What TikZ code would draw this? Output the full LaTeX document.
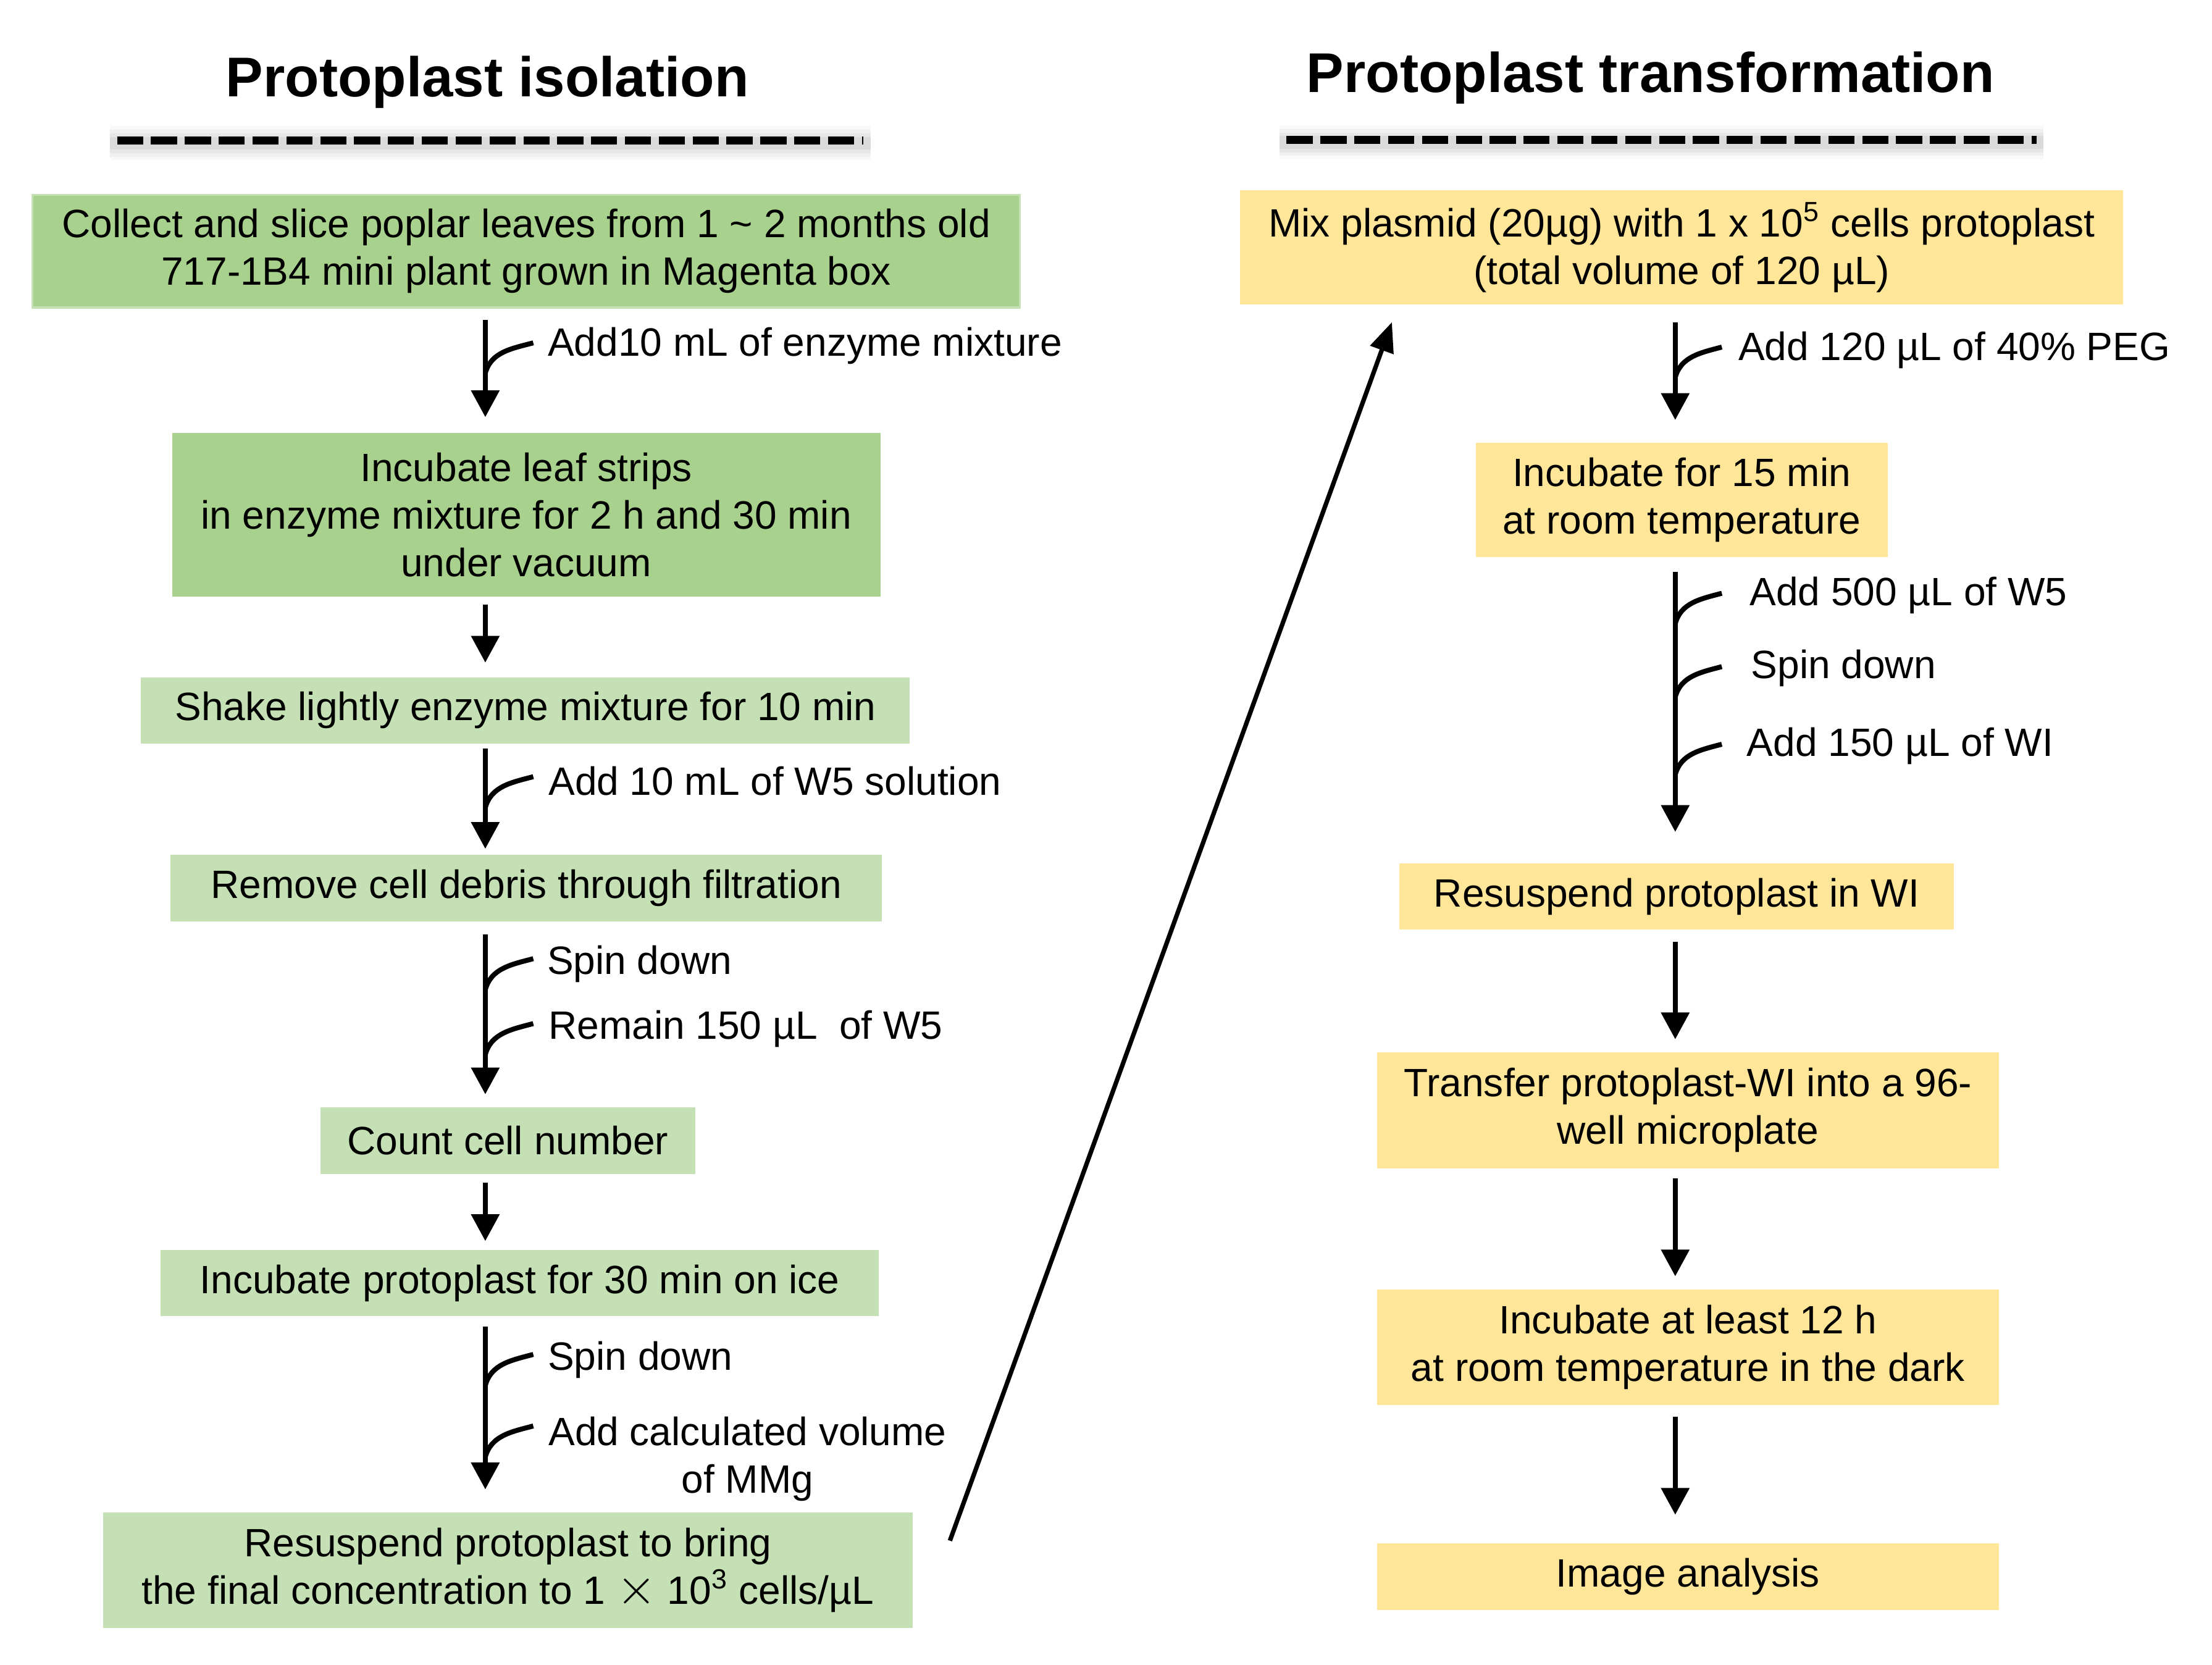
\documentclass[tikz,border=0pt]{standalone}
\usepackage{fontspec}
\setmainfont{Liberation Sans}
\usetikzlibrary{positioning}
\usetikzlibrary{arrows.meta, calc}
\definecolor{leafgreen}{HTML}{A9D18E}
\definecolor{palegreen}{HTML}{C5E0B4}
\definecolor{paleyellow}{HTML}{FFE699}
\tikzstyle{arrow} = [line width=2pt, -{Triangle[length=0.38cm,width=0.39cm]}]
\tikzstyle{hook} = [line width=2pt]

\begin{document}
\begin{tikzpicture}[
  stepbox/.style={rectangle, inner sep=0pt, align=center, font=\fontsize{15.95}{19.2}\selectfont},
  isobox/.style={stepbox, fill=palegreen},
  trfbox/.style={stepbox, fill=paleyellow},
  note/.style={inner sep=0pt, align=center, font=\fontsize{15.95}{19.2}\selectfont},
  heading/.style={inner sep=0pt, font=\fontsize{22.6}{26}\selectfont\bfseries},
  rule/.style={line width=0.115cm, dash pattern=on 0.37cm off 0.11cm}
]
\useasboundingbox (0,0) rectangle (31.36,-23.6);

\coordinate (colL) at (6.88,0);
\coordinate (colR) at (23.75,0);

% headings
\node[heading, anchor=base] (tIso) at (6.91,-1.37) {Protoplast isolation};
\node[heading, anchor=base] (tTrf) at (23.40,-1.31) {Protoplast transformation};

\foreach \w/\o in {0.48/0.05, 0.38/0.07, 0.28/0.09, 0.18/0.12} {
  \draw[gray, line width=\w cm, opacity=\o] (1.56,-2.03) -- (12.34,-2.03);
  \draw[gray, line width=\w cm, opacity=\o] (18.14,-2.02) -- (28.97,-2.02);
}
\draw[rule] (1.66,-1.99) -- (12.24,-1.99);
\draw[rule] (18.24,-1.98) -- (28.87,-1.98);

% isolation
\node[stepbox, fill=leafgreen, draw=palegreen, line width=0.8pt, minimum width=14cm, minimum height=1.6cm] (L1) at (7.46,-3.56)
  {Collect and slice poplar leaves from 1 \textasciitilde{} 2 months old\\717-1B4 mini plant grown in Magenta box};
\node[stepbox, fill=leafgreen, minimum width=10.04cm, minimum height=2.32cm] (L2) at (7.46,-7.30)
  {Incubate leaf strips\\in enzyme mixture for 2 h and 30 min\\under vacuum};
\node[isobox, minimum width=10.9cm, minimum height=0.94cm] (L3) at (7.45,-10.07) {Shake lightly enzyme mixture for 10 min};
\node[isobox, minimum width=10.08cm, minimum height=0.94cm] (L4) at (7.46,-12.59) {Remove cell debris through filtration};
\node[isobox, minimum width=5.32cm, minimum height=0.94cm] (L5) at (7.20,-16.17) {Count cell number};
\node[isobox, minimum width=10.18cm, minimum height=0.94cm] (L6) at (7.37,-18.19) {Incubate protoplast for 30 min on ice};
\node[isobox, minimum width=11.48cm, minimum height=1.64cm] (L7) at (7.20,-22.26)
  {Resuspend protoplast to bring\\the final concentration to 1 {\fontsize{20.5}{19.2}\selectfont$\times$} 10\textsuperscript{3} cells/µL};

\node[note, anchor=base west] (a1) at (7.76,-5.05) {Add10 mL of enzyme mixture};
\node[note, anchor=base west] (a2) at (7.77,-11.27) {Add 10 mL of W5 solution};
\node[note, anchor=base west] (a3) at (7.75,-13.81) {Spin down};
\node[note, anchor=base west] (a4) at (7.77,-14.73) {Remain 150 µL\ \ of W5};
\node[note, anchor=base west] (a5) at (7.76,-19.42) {Spin down};
\node[note, anchor=west] (a6) at (7.77,-20.68) {Add calculated volume\\of MMg};

\draw[arrow, shorten <=0.16cm, shorten >=0.22cm] (L1.south -| colL) -- (L2.north -| colL);
\draw[arrow, shorten <=0.10cm, shorten >=0.20cm] (L2.south -| colL) -- (L3.north -| colL);
\draw[arrow, shorten <=0.06cm, shorten >=0.08cm] (L3.south -| colL) -- (L4.north -| colL);
\draw[arrow, shorten <=0.18cm, shorten >=0.18cm] (L4.south -| colL) -- (L5.north -| colL);
\draw[arrow, shorten <=0.12cm, shorten >=0.12cm] (L5.south -| colL) -- (L6.north -| colL);
\draw[arrow, shorten <=0.14cm, shorten >=0.32cm] (L6.south -| colL) -- (L7.north -| colL);

\draw[hook] ($(colL |- a1.base)+(0.68,0.19)$) to[out=195,in=75] ($(colL |- a1.base)+(0,-0.24)$);
\draw[hook] ($(colL |- a2.base)+(0.68,0.26)$) to[out=195,in=75] ($(colL |- a2.base)+(0,-0.18)$);
\draw[hook] ($(colL |- a3.base)+(0.68,0.22)$) to[out=195,in=75] ($(colL |- a3.base)+(0,-0.22)$);
\draw[hook] ($(colL |- a4.base)+(0.68,0.22)$) to[out=195,in=75] ($(colL |- a4.base)+(0,-0.22)$);
\draw[hook] ($(colL |- a5.base)+(0.68,0.22)$) to[out=195,in=75] ($(colL |- a5.base)+(0,-0.22)$);
\draw[hook] ($(colL |- a6.north)+(0.68,-0.14)$) to[out=195,in=75] ($(colL |- a6.north)+(0,-0.58)$);

% transformation
\node[trfbox, minimum width=12.52cm, minimum height=1.62cm] (R1) at (23.84,-3.51)
  {Mix plasmid (20µg) with 1 x 10\textsuperscript{5} cells protoplast\\(total volume of 120 µL)};
\node[trfbox, minimum width=5.84cm, minimum height=1.62cm] (R2) at (23.84,-7.09) {Incubate for 15 min\\at room temperature};
\node[trfbox, minimum width=7.86cm, minimum height=0.94cm] (R3) at (23.77,-12.71) {Resuspend protoplast in WI};
\node[trfbox, minimum width=8.82cm, minimum height=1.64cm] (R4) at (23.93,-15.74) {Transfer protoplast-WI into a 96-\\well microplate};
\node[trfbox, minimum width=8.82cm, minimum height=1.64cm] (R5) at (23.93,-19.10) {Incubate at least 12 h\\at room temperature in the dark};
\node[trfbox, minimum width=8.82cm, minimum height=0.94cm] (R6) at (23.93,-22.35) {Image analysis};

\node[note, anchor=base west] (b1) at (24.64,-5.11) {Add 120 µL of 40\% PEG};
\node[note, anchor=base west] (b2) at (24.80,-8.58) {Add 500 µL of W5};
\node[note, anchor=base west] (b3) at (24.82,-9.62) {Spin down};
\node[note, anchor=base west] (b4) at (24.76,-10.72) {Add 150 µL of WI};

\draw[arrow, shorten <=0.24cm, shorten >=0.32cm] (R1.south -| colR) -- (R2.north -| colR);
\draw[arrow, shorten <=0.20cm, shorten >=0.44cm] (R2.south -| colR) -- (R3.north -| colR);
\draw[arrow, shorten <=0.16cm, shorten >=0.18cm] (R3.south -| colR) -- (R4.north -| colR);
\draw[arrow, shorten <=0.14cm, shorten >=0.18cm] (R4.south -| colR) -- (R5.north -| colR);
\draw[arrow, shorten <=0.16cm, shorten >=0.40cm] (R5.south -| colR) -- (R6.north -| colR);

\draw[hook] ($(colR |- b1.base)+(0.66,0.19)$) to[out=195,in=75] ($(colR |- b1.base)+(0,-0.24)$);
\draw[hook] ($(colR |- b2.base)+(0.66,0.17)$) to[out=195,in=75] ($(colR |- b2.base)+(0,-0.26)$);
\draw[hook] ($(colR |- b3.base)+(0.66,0.17)$) to[out=195,in=75] ($(colR |- b3.base)+(0,-0.26)$);
\draw[hook] ($(colR |- b4.base)+(0.66,0.17)$) to[out=195,in=75] ($(colR |- b4.base)+(0,-0.26)$);

% link between the two parts
\draw[line width=1.8pt, -{Triangle[length=0.42cm,width=0.34cm]}] ($(L7.east)+(0.52,0.42)$) -- ($(R1.south west)+(2.16,-0.24)$);

\end{tikzpicture}
\end{document}
